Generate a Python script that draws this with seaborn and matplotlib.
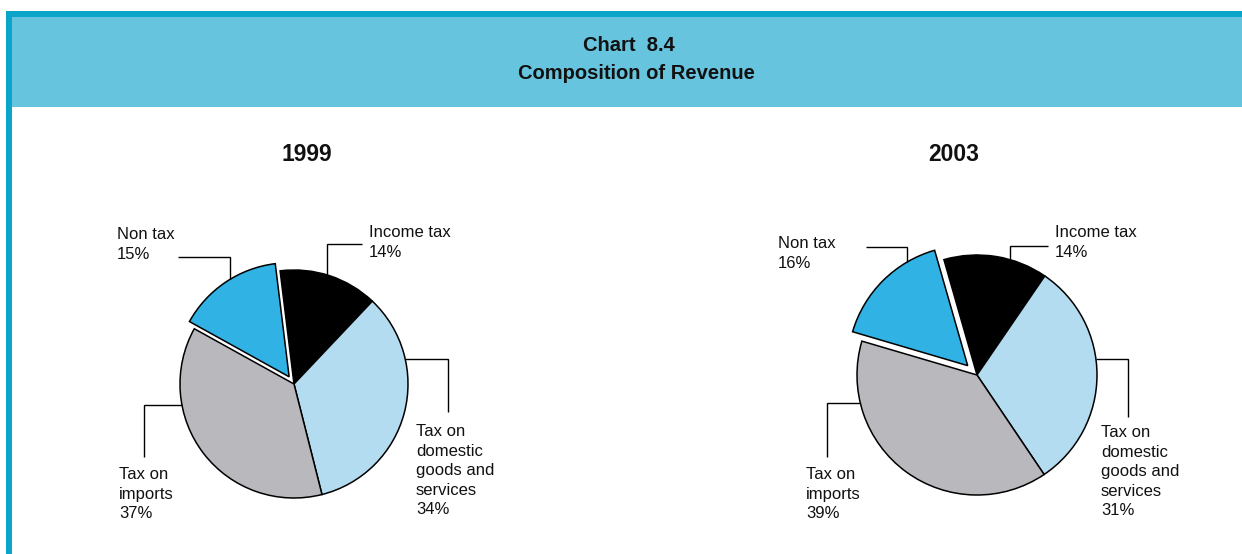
import numpy as np
import matplotlib
matplotlib.use("Agg")
import matplotlib.pyplot as plt
from matplotlib.patches import Rectangle
import seaborn as sns

# ---- data -------------------------------------------------------------
categories = ["Income tax", "Tax on domestic goods and services",
              "Tax on imports", "Non tax"]
share_1999 = [14, 34, 37, 15]
share_2003 = [14, 31, 39, 16]
years = ["1999", "2003"]
label_lines = [["Income tax"],
               ["Tax on", "domestic", "goods and", "services"],
               ["Tax on", "imports"],
               ["Non tax"]]
title_lines = ["Chart  8.4", "Composition of Revenue"]

# ---- style ------------------------------------------------------------
sns.set_theme(style="white")
plt.rcParams["font.family"] = ["Liberation Sans", "DejaVu Sans"]

slice_colors = ["#000000", "#b3dcf0", "#b9b8bd", "#31b2e4"]
band_color = "#66c4de"
rule_color = "#0aa5c8"

W, H = 1242, 554
fig = plt.figure(figsize=(W / 100, H / 100), dpi=100)
ax = fig.add_axes([0, 0, 1, 1])


def set_canvas():
    # pixel-like coordinates, y growing downwards
    ax.set_xlim(0, W)
    ax.set_ylim(H, 0)
    ax.set_aspect("auto")
    ax.axis("off")


set_canvas()

# ---- header band ------------------------------------------------------
ax.add_patch(Rectangle((12, 17), W - 12, 90, facecolor=band_color,
                       edgecolor="none", zorder=0))
ax.add_patch(Rectangle((6, 11), W - 6, 6, facecolor=rule_color,
                       edgecolor="none", zorder=0))
ax.add_patch(Rectangle((6, 11), 6, H - 11, facecolor=rule_color,
                       edgecolor="none", zorder=0))

ax.text(629, 51, title_lines[0], fontsize=14.5, fontweight="bold",
        ha="center", va="baseline", color="#111111")
ax.text(636, 79, title_lines[1], fontsize=14.5, fontweight="bold",
        ha="center", va="baseline", color="#111111")

# ---- pies -------------------------------------------------------------
pies = [
    dict(values=share_1999, year=years[0], center=(294, 384), radius=114,
         start=97, explode=0.076, year_pos=(306.5, 161),
         leaders=[((362, 244), (327, 244), "v"),
                  ((448, 412), (448, 359), "h"),
                  ((144, 457), (144, 405), "h"),
                  ((178, 257), (230, 257), "v")],
         text_pos=[(369, 237), (416, 436), (119, 479), (117, 239)]),
    dict(values=share_2003, year=years[1], center=(977, 375), radius=120,
         start=106, explode=0.11, year_pos=(954, 161),
         leaders=[((1048, 246), (1010, 246), "v"),
                  ((1128, 417), (1128, 359), "h"),
                  ((827, 457), (827, 403), "h"),
                  ((866, 247), (907, 247), "v")],
         text_pos=[(1055, 237), (1101, 437), (806, 479), (778, 248)]),
]


def rim_point(wedge, elbow, mode):
    cx, cy = wedge.center
    r = wedge.r
    ex, ey = elbow
    if mode == "v":
        dy = np.sqrt(max(r ** 2 - (ex - cx) ** 2, 0.0))
        return ex, (cy - dy if ey < cy else cy + dy)
    dx = np.sqrt(max(r ** 2 - (ey - cy) ** 2, 0.0))
    return (cx + dx if ex > cx else cx - dx), ey


line_gap = 19.6
for spec in pies:
    vals = spec["values"]
    r = spec["radius"]
    # pie offsets are in data units, so scale the fraction by the radius
    explode = [0, 0, 0, spec["explode"] * r]
    # y axis is inverted, so counterclock=True runs clockwise on screen
    wedges, _ = ax.pie(vals, colors=slice_colors, explode=explode,
                       center=spec["center"], radius=r,
                       startangle=-spec["start"], counterclock=True,
                       wedgeprops=dict(edgecolor="black", linewidth=1.1),
                       frame=True)
    set_canvas()

    ax.text(*spec["year_pos"], spec["year"], fontsize=16.5,
            fontweight="bold", ha="center", va="baseline", color="#111111")

    for i, (w, (far, elbow, mode)) in enumerate(zip(wedges, spec["leaders"])):
        rx, ry = rim_point(w, elbow, mode)
        ax.plot([far[0], elbow[0], rx], [far[1], elbow[1], ry],
                color="black", linewidth=1.0, solid_capstyle="butt",
                solid_joinstyle="miter", zorder=3)
        tx, ty = spec["text_pos"][i]
        for j, line in enumerate(label_lines[i] + [f"{vals[i]}%"]):
            ax.text(tx, ty + j * line_gap, line, fontsize=12,
                    ha="left", va="baseline", color="#111111")

fig.savefig("out.png", dpi=100, facecolor="white")
